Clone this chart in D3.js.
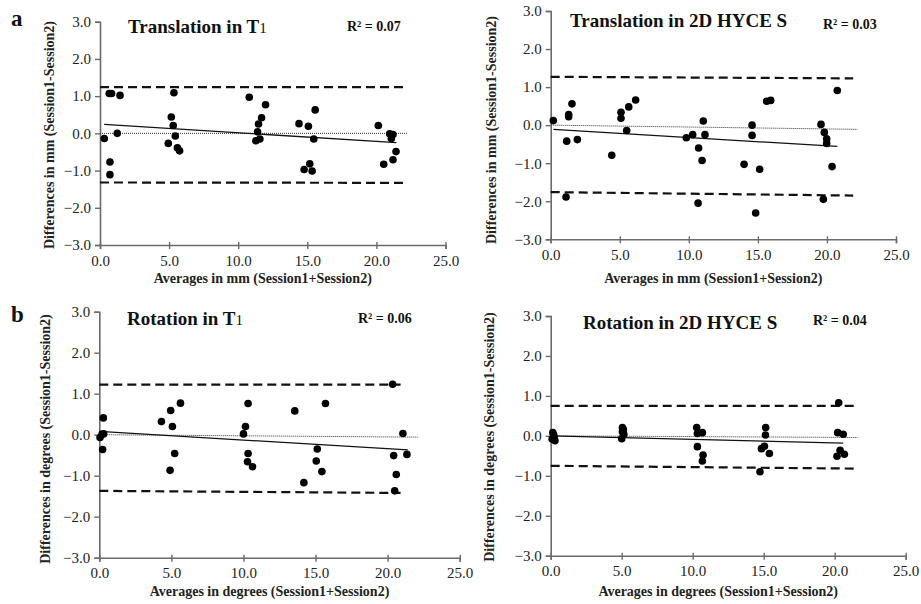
<!DOCTYPE html>
<html>
<head>
<meta charset="utf-8">
<script src="https://cdn.jsdelivr.net/npm/d3@7"></script>
<style>
  html, body { margin: 0; padding: 0; background: #fff; }
  svg { display: block; font-family: "Liberation Serif", "Times New Roman", serif; }
</style>
</head>
<body>
<svg id="chart" width="921" height="604"></svg>
<script>
// ---------- DATA ----------
const xTicks = [0, 5, 10, 15, 20, 25];
const yTicks = [-3, -2, -1, 0, 1, 2, 3];

// a (left): Translation in T1
const transT1_avg  = [0.31, 0.67, 0.84, 1.45, 0.72, 0.72, 1.25, 5.16, 5.35, 5.30, 5.45, 4.94, 5.60, 5.76, 10.80, 11.98, 11.69, 11.47, 11.40, 11.28, 11.57, 14.40, 15.08, 15.57, 15.47, 14.77, 15.18, 15.35, 20.14, 20.96, 21.20, 21.08, 21.42, 21.20, 20.53];
const transT1_diff = [-0.14, 1.07, 1.07, 1.02, -0.77, -1.11, 0.00, 0.44, 1.09, 0.21, -0.07, -0.27, -0.39, -0.47, 0.97, 0.77, 0.42, 0.25, 0.04, -0.20, -0.15, 0.26, 0.19, 0.63, -0.15, -0.97, -0.82, -1.01, 0.21, -0.01, -0.03, -0.14, -0.49, -0.71, -0.83];
const transT1_upper = [1.24, 1.24];
const transT1_lower = [-1.32, -1.33];
const transT1_zero  = [0.00, 0.00];
const transT1_fit   = [0.24, -0.25];
const transT1_fitX  = [0.3, 21.45];
const transT1_limX  = [0, 22.2];
const transT1_r2 = "R\u00B2 = 0.07";

// a (right): Translation in 2D HYCE S
const transH_avg  = [0.19, 1.11, 1.16, 1.30, 1.30, 1.54, 1.93, 4.42, 5.09, 5.09, 5.50, 5.65, 6.15, 9.82, 10.28, 10.67, 10.71, 10.96, 11.05, 11.17, 14.00, 14.58, 14.58, 14.84, 15.13, 15.64, 15.93, 19.57, 19.74, 19.81, 19.98, 19.98, 20.37, 20.75];
const transH_diff = [0.12, -1.89, -0.42, 0.28, 0.22, 0.56, -0.38, -0.79, 0.34, 0.18, -0.14, 0.48, 0.66, -0.33, -0.25, -2.05, -0.60, -0.93, 0.11, -0.25, -1.03, 0.00, -0.27, -2.31, -1.16, 0.63, 0.65, 0.02, -1.95, -0.19, -0.36, -0.48, -1.09, 0.91];
const transH_upper = [1.27, 1.23];
const transH_lower = [-1.76, -1.85];
const transH_zero  = [0.00, -0.11];
const transH_fit   = [-0.11, -0.56];
const transH_fitX  = [0.19, 20.75];
const transH_limX  = [0, 21.9];
const transH_zeroX = [0, 22.2];
const transH_r2 = "R\u00B2 = 0.03";

// b (left): Rotation in T1
const rotT1_avg  = [0.05, 0.19, 0.30, 0.28, 0.23, 4.31, 4.95, 5.07, 5.63, 4.91, 5.23, 10.00, 10.14, 10.32, 10.32, 10.28, 10.63, 13.56, 14.19, 15.12, 15.05, 15.44, 15.69, 20.35, 20.42, 20.49, 20.60, 21.06, 21.34];
const rotT1_diff = [-0.07, 0.01, 0.02, 0.41, -0.36, 0.32, 0.59, 0.20, 0.77, -0.87, -0.46, 0.02, 0.20, 0.76, -0.46, -0.66, -0.78, 0.58, -1.17, -0.35, -0.64, -0.90, 0.76, 1.23, -0.51, -1.37, -0.97, 0.03, -0.48];
const rotT1_upper = [1.22, 1.22];
const rotT1_lower = [-1.37, -1.42];
const rotT1_zero  = [0.00, -0.06];
const rotT1_fit   = [0.08, -0.37];
const rotT1_fitX  = [0, 21.4];
const rotT1_limX  = [0, 20.9];
const rotT1_zeroX = [0, 22.1];
const rotT1_r2 = "R\u00B2 = 0.06";

// b (right): Rotation in 2D HYCE S
const rotH_avg  = [0.15, 0.20, 0.25, 0.10, 0.30, 5.05, 5.12, 5.15, 5.00, 5.05, 10.28, 10.33, 10.68, 10.33, 10.73, 10.68, 15.14, 15.12, 14.84, 15.05, 15.40, 14.74, 20.28, 20.21, 20.60, 20.38, 20.16, 20.68];
const rotH_diff = [0.08, 0.03, -0.03, -0.08, -0.12, 0.21, 0.16, 0.04, -0.07, 0.10, 0.21, 0.06, 0.08, -0.27, -0.48, -0.63, 0.21, 0.02, -0.32, -0.26, -0.44, -0.90, 0.83, 0.08, 0.04, -0.36, -0.51, -0.46];
const rotH_upper = [0.75, 0.75];
const rotH_lower = [-0.75, -0.82];
const rotH_zero  = [0.00, -0.04];
const rotH_fit   = [0.00, -0.18];
const rotH_fitX  = [0, 20.6];
const rotH_limX  = [0, 21.5];
const rotH_zeroX = [0, 21.6];
const rotH_r2 = "R\u00B2 = 0.04";

// ---------- PANELS (layout) ----------
const panels = [
  { avg: transT1_avg, diff: transT1_diff, upper: transT1_upper, lower: transT1_lower, zero: transT1_zero, zeroX: transT1_limX, fit: transT1_fit, fitX: transT1_fitX, limX: transT1_limX, r2: transT1_r2,
    title: ["Translation in T", "1"], unit: "mm",
    x0: 100, x1: 445.5, yTop: 21.7, yBot: 245, titleX: 128, titleY: 33, r2X: 347, r2Y: 31, yTitleX: 54, yTitleY: 135, xTitleY: 283, label: "a", labelY: 26 },
  { avg: transH_avg, diff: transH_diff, upper: transH_upper, lower: transH_lower, zero: transH_zero, zeroX: transH_zeroX, fit: transH_fit, fitX: transH_fitX, limX: transH_limX, r2: transH_r2,
    title: ["Translation in 2D HYCE S", ""], unit: "mm",
    x0: 550.7, x1: 896, yTop: 11, yBot: 239.3, titleX: 570, titleY: 27, r2X: 823, r2Y: 29, yTitleX: 496, yTitleY: 130, xTitleY: 283 },
  { avg: rotT1_avg, diff: rotT1_diff, upper: rotT1_upper, lower: rotT1_lower, zero: rotT1_zero, zeroX: rotT1_zeroX, fit: rotT1_fit, fitX: rotT1_fitX, limX: rotT1_limX, r2: rotT1_r2,
    title: ["Rotation in T", "1"], unit: "degrees",
    x0: 99.3, x1: 459.7, yTop: 311.7, yBot: 557.7, titleX: 127, titleY: 325, r2X: 358, r2Y: 323, yTitleX: 50, yTitleY: 439, xTitleY: 596, label: "b", labelY: 322 },
  { avg: rotH_avg, diff: rotH_diff, upper: rotH_upper, lower: rotH_lower, zero: rotH_zero, zeroX: rotH_zeroX, fit: rotH_fit, fitX: rotH_fitX, limX: rotH_limX, r2: rotH_r2,
    title: ["Rotation in 2D HYCE S", ""], unit: "degrees",
    x0: 550.7, x1: 905.7, yTop: 316, yBot: 555.7, titleX: 583, titleY: 329, r2X: 813, r2Y: 325, yTitleX: 494, yTitleY: 437, xTitleY: 596 }
];

const svg = d3.select("#chart");
const fmt = d3.format(".1f");
const axisColor = "#6b6b6b";
const textColor = "#222";

panels.forEach(p => {
  const x = d3.scaleLinear().domain([0, 25]).range([p.x0, p.x1]);
  const y = d3.scaleLinear().domain([-3, 3]).range([p.yBot, p.yTop]);
  const g = svg.append("g");

  const yAxis = g.append("g").attr("transform", `translate(${p.x0},0)`)
    .call(d3.axisLeft(y).tickValues(yTicks).tickFormat(fmt).tickSize(5).tickPadding(4));
  const xAxis = g.append("g").attr("transform", `translate(0,${p.yBot})`)
    .call(d3.axisBottom(x).tickValues(xTicks).tickFormat(fmt).tickSize(4).tickPadding(6));
  [yAxis, xAxis].forEach(a => {
    a.select(".domain").attr("stroke", axisColor).attr("stroke-width", 1.6);
    a.selectAll(".tick line").attr("stroke", axisColor).attr("stroke-width", 1.4);
    a.selectAll(".tick text").attr("fill", textColor)
      .style("font-family", "'Liberation Serif', serif").style("font-size", "15px");
  });
  xAxis.selectAll(".tick line").attr("y1", -3);

  const line = d3.line().x(d => x(d[0])).y(d => y(d[1]));

  [p.upper, p.lower].forEach(v => {
    g.append("path")
      .attr("d", line([[p.limX[0], v[0]], [p.limX[1], v[1]]]))
      .attr("stroke", "#111").attr("stroke-width", 2.2).attr("stroke-dasharray", "9,5").attr("fill", "none");
  });
  g.append("path")
    .attr("d", line([[p.zeroX[0], p.zero[0]], [p.zeroX[1], p.zero[1]]]))
    .attr("stroke", "#333").attr("stroke-width", 1).attr("stroke-dasharray", "1,1").attr("fill", "none");
  g.append("path")
    .attr("d", line([[p.fitX[0], p.fit[0]], [p.fitX[1], p.fit[1]]]))
    .attr("stroke", "#111").attr("stroke-width", 1.3).attr("fill", "none");

  g.selectAll("circle.pt").data(p.avg.map((a, i) => [a, p.diff[i]])).enter()
    .append("circle").attr("class", "pt")
    .attr("cx", d => x(d[0])).attr("cy", d => y(d[1])).attr("r", 3.8).attr("fill", "#000");

  const t = g.append("text").attr("x", p.titleX).attr("y", p.titleY)
    .attr("fill", "#111").style("font-size", "19px").style("font-weight", "bold").text(p.title[0]);
  if (p.title[1]) t.append("tspan").style("font-size", "15px").style("font-weight", "normal").text(p.title[1]);

  g.append("text").attr("x", p.r2X).attr("y", p.r2Y).attr("fill", "#111")
    .style("font-size", "14px").style("font-weight", "bold").text(p.r2);

  g.append("text").attr("transform", `translate(${p.yTitleX},${p.yTitleY}) rotate(-90)`)
    .attr("text-anchor", "middle").attr("fill", textColor)
    .style("font-size", "14px").style("font-weight", "bold")
    .text(`Differences in ${p.unit} (Session1-Session2)`);
  g.append("text").attr("x", (x(0) + x(25)) / 2 - 10).attr("y", p.xTitleY)
    .attr("text-anchor", "middle").attr("fill", textColor)
    .style("font-size", "14px").style("font-weight", "bold")
    .text(`Averages in ${p.unit} (Session1+Session2)`);

  if (p.label) {
    svg.append("text").attr("x", 11).attr("y", p.labelY).attr("fill", "#111")
      .style("font-size", "23px").style("font-weight", "bold").text(p.label);
  }
});
</script>
</body>
</html>
